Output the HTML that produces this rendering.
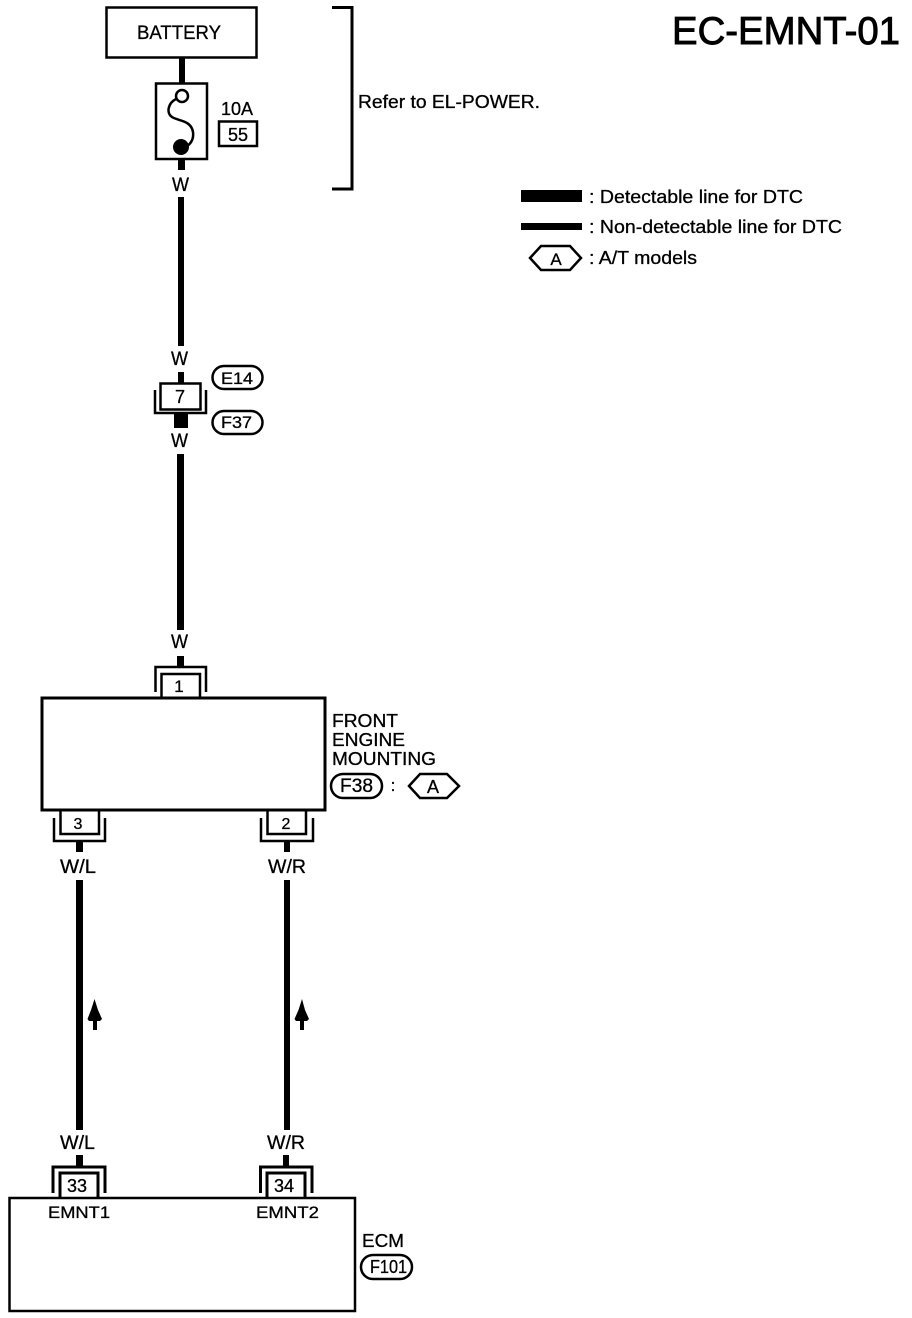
<!DOCTYPE html>
<html><head><meta charset="utf-8">
<style>
html,body{margin:0;padding:0;background:#fff;width:912px;height:1318px;overflow:hidden}
svg{display:block}
text{font-family:"Liberation Sans",sans-serif;fill:#000;stroke:#000;stroke-width:.3}
.c{text-anchor:middle}
</style></head><body>
<svg width="912" height="1318" viewBox="0 0 912 1318" xmlns="http://www.w3.org/2000/svg">
<g fill="none" stroke="#000" stroke-width="2.5">
<rect x="106.500" y="7.500" width="150" height="50"/>
<rect x="156" y="83.500" width="51" height="75.500"/>
<circle cx="182" cy="96" r="6"/>
<path d="M176 99C168 103 166 113 172 117C178 121 191 120 193 132C194 140 190 145 184 148"/>
<path d="M332 7.500H352V189H332" stroke-width="3"/>
<rect x="219" y="121.500" width="38" height="24.500"/>
</g>
<circle cx="181" cy="147" r="8"/>
<rect x="179" y="57" width="6" height="27"/>
<rect x="178" y="159" width="7" height="11"/>
<rect x="178" y="197" width="6" height="149"/>
<rect x="178" y="372" width="6" height="12"/>
<rect x="174" y="413" width="14" height="15"/>
<rect x="177" y="454" width="7" height="176"/>
<rect x="177" y="656" width="7" height="11"/>
<rect x="76" y="841" width="7" height="11"/>
<rect x="76" y="880" width="7" height="250"/>
<rect x="76" y="1155" width="7" height="12"/>
<rect x="284" y="841" width="6" height="11"/>
<rect x="284" y="880" width="6" height="250"/>
<rect x="283" y="1155" width="6" height="12"/>
<g fill="none" stroke="#000" stroke-width="2.5">
<rect x="160.500" y="383.500" width="40" height="26"/>
<path d="M155 390V413H206V390"/>
<path d="M155.500 692V667H206V692"/>
<path d="M161.500 697V674H200V697"/>
<rect x="42" y="698" width="283" height="112" stroke-width="3"/>
<path d="M60.500 811V834H99V811"/>
<path d="M54 818V841H105V818"/>
<path d="M267.500 811V834H306V811"/>
<path d="M261 818V841H313V818"/>
<path d="M53 1193V1167H105V1193" stroke-width="3"/>
<path d="M60 1198V1173H98V1198" stroke-width="3"/>
<path d="M260.500 1193V1167H312V1193" stroke-width="3"/>
<path d="M267 1198V1173H305V1198" stroke-width="3"/>
<rect x="9.500" y="1198" width="345.500" height="113"/>
<rect x="212.500" y="366" width="50" height="23" rx="11.500"/>
<rect x="212.500" y="411" width="50" height="23" rx="11.500"/>
<rect x="331" y="774" width="51" height="24" rx="12"/>
<rect x="361" y="1255" width="51" height="24" rx="12"/>
<path d="M409 786L420 774H447L459 786L447 798H420Z"/>
<path d="M530 258L541 246H570L581 258L570 270H541Z"/>
</g>
<rect x="521" y="190" width="61" height="12"/>
<rect x="521" y="223" width="61" height="7"/>
<path d="M94.500 999L98 1010L102 1019L100 1021H97V1030H93V1021H89L87.500 1019L91 1010Z"/>
<path d="M302 999L305 1010L309 1019L307 1021H304V1030H300V1021H296L294.500 1019L298.500 1010Z"/>
<g font-size="19">
<text x="137" y="39" textLength="84" lengthAdjust="spacingAndGlyphs">BATTERY</text>
<text x="221" y="115" font-size="18" textLength="32" lengthAdjust="spacingAndGlyphs">10A</text>
<text x="238" y="141" class="c" font-size="18">55</text>
<text x="358" y="108" font-size="18" textLength="182" lengthAdjust="spacingAndGlyphs">Refer to EL-POWER.</text>
<text x="172" y="191" textLength="17" lengthAdjust="spacingAndGlyphs">W</text>
<text x="171" y="365" textLength="17" lengthAdjust="spacingAndGlyphs">W</text>
<text x="180" y="403" class="c" font-size="18">7</text>
<text x="171" y="447" textLength="17" lengthAdjust="spacingAndGlyphs">W</text>
<text x="171" y="648" textLength="17" lengthAdjust="spacingAndGlyphs">W</text>
<text x="179" y="692" class="c" font-size="17">1</text>
<text x="78" y="829" class="c" font-size="16">3</text>
<text x="286" y="829" class="c" font-size="16">2</text>
<text x="60" y="873" textLength="36" lengthAdjust="spacingAndGlyphs">W/L</text>
<text x="268" y="873" textLength="38" lengthAdjust="spacingAndGlyphs">W/R</text>
<text x="60" y="1149" textLength="35" lengthAdjust="spacingAndGlyphs">W/L</text>
<text x="267" y="1149" textLength="38" lengthAdjust="spacingAndGlyphs">W/R</text>
<text x="77" y="1192" class="c" font-size="18">33</text>
<text x="284" y="1192" class="c" font-size="18">34</text>
<text x="48" y="1218" font-size="17" textLength="62" lengthAdjust="spacingAndGlyphs">EMNT1</text>
<text x="256" y="1218" font-size="17" textLength="63" lengthAdjust="spacingAndGlyphs">EMNT2</text>
<text x="221" y="384" font-size="17" textLength="32" lengthAdjust="spacingAndGlyphs">E14</text>
<text x="221" y="428" font-size="17" textLength="31" lengthAdjust="spacingAndGlyphs">F37</text>
<text x="332" y="727" font-size="18" textLength="66" lengthAdjust="spacingAndGlyphs">FRONT</text>
<text x="332" y="746" font-size="18" textLength="73" lengthAdjust="spacingAndGlyphs">ENGINE</text>
<text x="332" y="765" font-size="18" textLength="104" lengthAdjust="spacingAndGlyphs">MOUNTING</text>
<text x="340" y="792" font-size="19" textLength="33" lengthAdjust="spacingAndGlyphs">F38</text>
<text x="393" y="791" class="c" font-size="17">:</text>
<text x="433" y="793" class="c" font-size="18">A</text>
<text x="362" y="1247" font-size="18" textLength="42" lengthAdjust="spacingAndGlyphs">ECM</text>
<text x="370" y="1273" font-size="18" textLength="37" lengthAdjust="spacingAndGlyphs">F101</text>
<text x="589" y="203" font-size="18" textLength="214" lengthAdjust="spacingAndGlyphs">: Detectable line for DTC</text>
<text x="589" y="233" font-size="18" textLength="253" lengthAdjust="spacingAndGlyphs">: Non-detectable line for DTC</text>
<text x="556" y="265" class="c" font-size="17">A</text>
<text x="589" y="264" font-size="18" textLength="108" lengthAdjust="spacingAndGlyphs">: A/T models</text>
</g>
<text x="672" y="44" font-size="39" style="stroke-width:.9" textLength="228" lengthAdjust="spacingAndGlyphs">EC-EMNT-01</text>
</svg>
</body></html>
